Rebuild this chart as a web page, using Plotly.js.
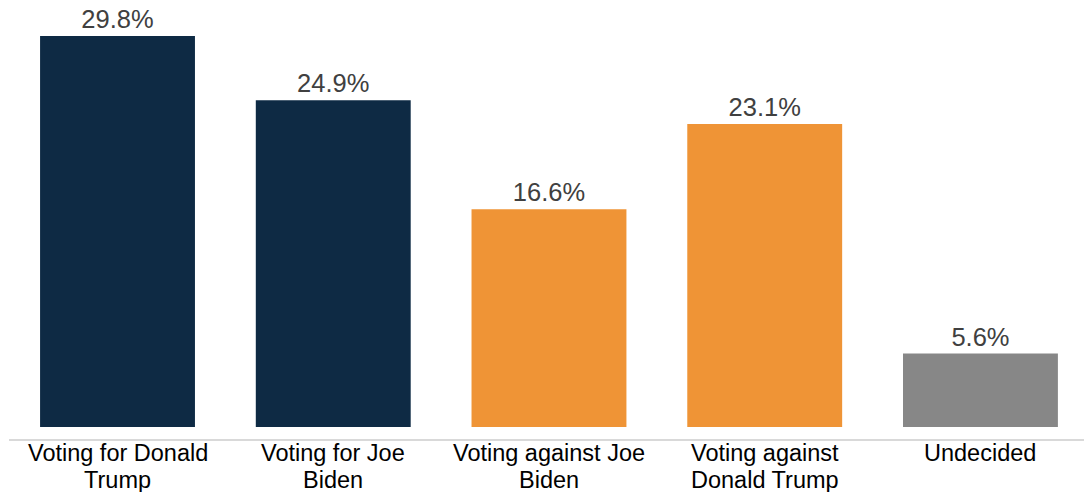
<!DOCTYPE html>
<html>
<head>
<meta charset="utf-8">
<script src="https://cdn.plot.ly/plotly-3.0.1.min.js"></script>
<style>html,body{margin:0;padding:0;background:#fff;}#chart{width:1084px;height:492px;}</style>
</head>
<body>
<div id="chart"></div>
<script>
const categories = ["Voting for Donald<br>Trump", "Voting for Joe<br>Biden", "Voting against Joe<br>Biden", "Voting against<br>Donald Trump", "Undecided"];
const values = [29.8, 24.9, 16.6, 23.1, 5.6];
const labels = ["29.8%", "24.9%", "16.6%", "23.1%", "5.6%"];
const colors = ["#0e2a44", "#0e2a44", "#ef9436", "#ef9436", "#878787"];

const FONT = "Liberation Sans, Arial, sans-serif";

const trace = {
  type: "bar",
  x: categories,
  y: values,
  text: labels,
  textposition: "outside",
  cliponaxis: false,
  textfont: {family: FONT, size: 25.5, color: "#404040"},
  marker: {color: colors},
  hoverinfo: "none"
};

// category labels drawn line by line so that the line spacing matches
const annotations = [];
categories.forEach(function (cat) {
  cat.split("<br>").forEach(function (line, j) {
    annotations.push({
      x: cat, xref: "x",
      y: 0, yref: "paper",
      yanchor: "middle",
      yshift: -14 - 26.5 * j,
      text: line,
      showarrow: false,
      font: {family: FONT, size: 23.5, color: "#000000"}
    });
  });
});

const layout = {
  width: 1084,
  height: 492,
  margin: {l: 9, r: 0, t: 10, b: 53},
  paper_bgcolor: "#ffffff",
  plot_bgcolor: "#ffffff",
  showlegend: false,
  bargap: 0.282,
  annotations: annotations,
  xaxis: {
    type: "category",
    range: [-0.503, 4.48],
    showline: true,
    linecolor: "#d9d9d9",
    linewidth: 2,
    ticks: "",
    showticklabels: false,
    showgrid: false,
    zeroline: false
  },
  yaxis: {
    range: [-0.915, 31.78],
    visible: false,
    showgrid: false,
    zeroline: false
  }
};

Plotly.newPlot("chart", [trace], layout, {displayModeBar: false, staticPlot: true});
</script>
</body>
</html>
